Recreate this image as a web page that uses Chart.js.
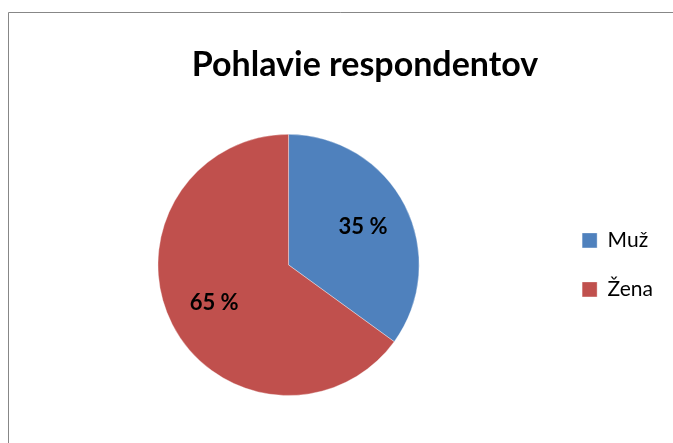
<!DOCTYPE html>
<html>
<head>
<meta charset="utf-8">
<script src="https://cdn.jsdelivr.net/npm/chart.js@4.4.1/dist/chart.umd.min.js"></script>
<style>
  html, body { margin: 0; padding: 0; background: #ffffff; overflow: hidden; }
  #c { display: block; }
</style>
</head>
<body>
<canvas id="c" width="673" height="443"></canvas>
<script>
const chartTitle = 'Pohlavie respondentov';
const categories = ['Muž', 'Žena'];
const values = [35, 65];
const colors = ['#4F81BD', '#C0504D'];

const framePlugin = {
  id: 'frame',
  afterLayout(chart) {
    // Excel chart frame spans wider than the visible image; centre title on it
    const t = chart.titleBlock;
    if (t) { t.left = 8.5; t.right = 721.5; t.width = t.right - t.left; }
  },
  beforeDraw(chart) {
    const ctx = chart.ctx;
    ctx.save();
    ctx.fillStyle = '#ffffff';
    ctx.fillRect(0, 0, chart.width, chart.height);
    ctx.strokeStyle = '#878787';
    ctx.lineWidth = 1;
    ctx.beginPath();
    ctx.moveTo(8.5, chart.height);
    ctx.lineTo(8.5, 12.5);
    ctx.lineTo(chart.width, 12.5);
    ctx.stroke();
    ctx.restore();
  }
};

const sliceLabels = {
  id: 'sliceLabels',
  afterDatasetsDraw(chart) {
    const ctx = chart.ctx;
    const meta = chart.getDatasetMeta(0);
    ctx.save();
    ctx.font = 'bold 22px Lato';
    ctx.fillStyle = '#000000';
    ctx.textAlign = 'center';
    ctx.textBaseline = 'middle';
    meta.data.forEach((arc, i) => {
      const p = arc.getProps(['x', 'y', 'startAngle', 'endAngle', 'outerRadius'], true);
      const mid = (p.startAngle + p.endAngle) / 2;
      const r = p.outerRadius * 0.64;
      ctx.fillText(values[i] + ' %', p.x + Math.cos(mid) * r, p.y + Math.sin(mid) * r);
    });
    ctx.restore();
  }
};

new Chart(document.getElementById('c'), {
  type: 'pie',
  data: {
    labels: categories,
    datasets: [{
      data: values,
      backgroundColor: colors,
      borderColor: 'rgba(255,255,255,0.35)',
      borderWidth: 1
    }]
  },
  options: {
    responsive: false,
    animation: false,
    devicePixelRatio: 1,
    layout: { padding: { left: 23, right: 10, top: 0, bottom: 47 } },
    plugins: {
      title: {
        display: true,
        text: chartTitle,
        color: '#000000',
        font: { family: 'Lato', size: 34, weight: 'bold', lineHeight: 1.2 },
        padding: { top: 45, bottom: 48 }
      },
      legend: {
        position: 'right',
        fullSize: false,
        labels: {
          boxWidth: 15,
          boxHeight: 15,
          padding: 28,
          color: '#000000',
          font: { family: 'Lato', size: 21 }
        }
      },
      tooltip: { enabled: false }
    }
  },
  plugins: [framePlugin, sliceLabels]
});
</script>
</body>
</html>
